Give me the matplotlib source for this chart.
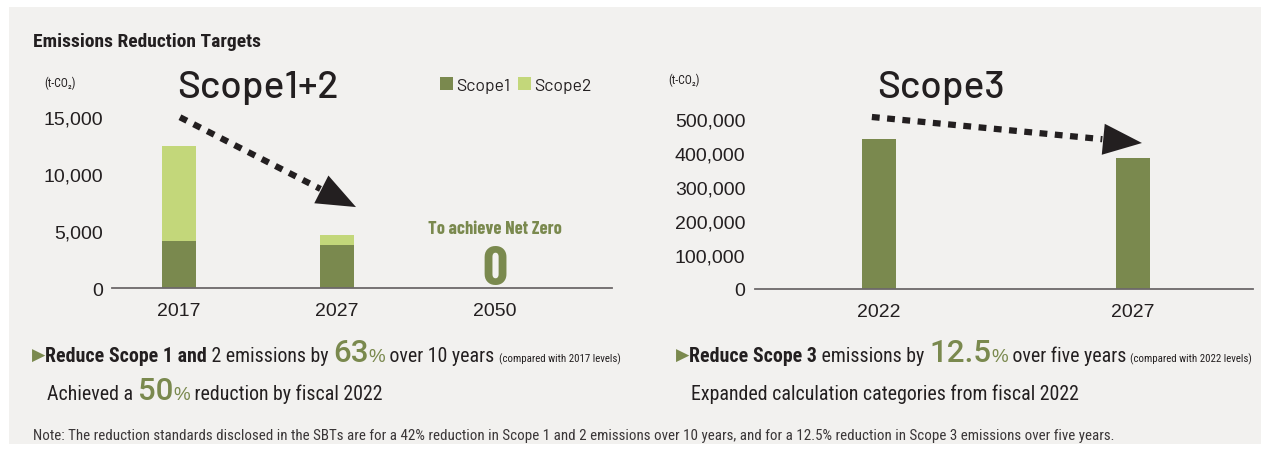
import matplotlib
matplotlib.use("Agg")
import matplotlib.pyplot as plt
from matplotlib.patches import Rectangle
from matplotlib.ticker import FuncFormatter
from matplotlib.transforms import IdentityTransform

# emissions data (t-CO2)
years_12 = ["2017", "2027", "2050"]
scope1 = [4150, 3730, 0]
scope2 = [8300, 880, 0]
years_3 = ["2022", "2027"]
scope3 = [441000, 386000]

DARK = "#231f20"
GREEN = "#7a894e"
LIGHT = "#c3d77a"
PANEL = "#f2f1ef"
AXIS = "#6d6869"

BODY = ["Roboto Condensed", "Archivo Narrow", "Liberation Sans", "DejaVu Sans"]
HEAD = ["Barlow", "DejaVu Sans"]
COND = ["Barlow Condensed", "DejaVu Sans"]
NUM = ["Liberation Sans", "DejaVu Sans"]
BIGNUM = ["Roboto", "Liberation Sans", "DejaVu Sans"]

W, H = 1261, 452
fig = plt.figure(figsize=(W / 100, H / 100), dpi=100, facecolor="white")
fig.add_artist(Rectangle((9 / W, 1 - 445 / H), 1 - 9 / W, 437 / H,
                         transform=fig.transFigure, facecolor=PANEL,
                         edgecolor="none", zorder=-5))


def px_axes(x0, x1, y0, y1):
    # axes box given in pixels from the top-left corner
    return fig.add_axes([x0 / W, 1 - y1 / H, (x1 - x0) / W, (y1 - y0) / H])


def style_axes(ax, fmt_pad):
    ax.set_facecolor("none")
    for s in ["left", "right", "top"]:
        ax.spines[s].set_visible(False)
    ax.spines["bottom"].set_color(AXIS)
    ax.spines["bottom"].set_linewidth(1.3)
    ax.tick_params(length=0, labelsize=14, colors=DARK)
    ax.tick_params(axis="x", pad=10)
    ax.tick_params(axis="y", pad=fmt_pad)
    ax.yaxis.set_major_formatter(FuncFormatter(lambda v, p: f"{v:,.0f}"))
    for lab in ax.get_xticklabels() + ax.get_yticklabels():
        lab.set_family(NUM)


def dotted_arrow(ax, start, base, tip):
    # square-dotted shaft plus a solid triangular head
    ax.plot([start[0], base[0]], [start[1], base[1]], color=DARK, lw=4.5,
            linestyle=(0, (1.25, 1.2)), dash_capstyle="butt", clip_on=False)
    ax.annotate("", xy=tip, xytext=base,
                arrowprops=dict(arrowstyle="-|>,head_length=1.0,head_width=0.4",
                                mutation_scale=28, lw=0, color=DARK,
                                shrinkA=0, shrinkB=0),
                annotation_clip=False)


# --- Scope 1+2 ---
ax1 = px_axes(112, 612, 118, 289)
x12 = range(len(years_12))
b1 = ax1.bar(x12, scope1, width=0.215, color=GREEN, label="Scope1")
b2 = ax1.bar(x12, scope2, width=0.215, bottom=scope1, color=LIGHT, label="Scope2")
ax1.set_xlim(-0.424, 2.74)
ax1.set_ylim(0, 15000)
ax1.set_yticks([0, 5000, 10000, 15000])
ax1.set_xticks(list(x12), years_12)
style_axes(ax1, 6.5)

ax1.text(2, 350, "0", ha="center", va="baseline", family=COND, weight="bold",
         fontsize=40, color=GREEN)
ax1.text(2, 5250, "To achieve Net Zero", ha="center", va="center",
         family=COND, weight="bold", fontsize=13.3, color=GREEN)

dotted_arrow(ax1, (0.006, 14980), (0.895, 8690), (1.12, 7100))

ax1.legend(handles=[b1, b2], ncol=2, frameon=False, loc="center left",
           bbox_to_anchor=(440 / W, 1 - 86 / H), bbox_transform=fig.transFigure,
           borderpad=0, borderaxespad=0, handlelength=0.75, handleheight=0.75,
           handletextpad=0.15, columnspacing=0.45,
           prop=dict(family=HEAD, size=12.7), labelcolor=DARK)

# --- Scope 3 ---
ax2 = px_axes(755, 1253, 120, 290)
x3 = range(len(years_3))
ax2.bar(x3, scope3, width=0.134, color=GREEN)
ax2.set_xlim(-0.488, 1.472)
ax2.set_ylim(0, 500000)
ax2.set_yticks(range(0, 500001, 100000))
ax2.set_xticks(list(x3), years_3)
style_axes(ax2, 7)

dotted_arrow(ax2, (-0.028, 505900), (0.879, 440600), (1.035, 429400))


# --- headings and units ---
def ptext(x, y, s, **kw):
    kw.setdefault("color", DARK)
    return fig.text(x, H - y, s, transform=IdentityTransform(), **kw)


ptext(33, 42, "Emissions Reduction Targets", va="center", family=BODY,
      weight="bold", fontsize=14)
ptext(258, 98, "Scope1+2", ha="center", va="baseline", family=HEAD,
      weight="medium", fontsize=28)
ptext(941, 98, "Scope3", ha="center", va="baseline", family=HEAD,
      weight="medium", fontsize=28)
ptext(44, 83, "(t-CO\u2082)", va="center", family=BODY, fontsize=8.5)
ptext(668, 80, "(t-CO\u2082)", va="center", family=BODY, fontsize=8.5)

# --- summary lines built from runs of text ---
renderer = fig.canvas.get_renderer()


def runs(x, y, parts):
    for s, kw in parts:
        kw = dict(kw)
        kw.setdefault("family", BODY)
        kw.setdefault("fontsize", 14.3)
        dy = kw.pop("dy", 0)
        t = ptext(x, y - dy, s, va="baseline", **kw)
        x = t.get_window_extent(renderer).x1


tri = dict(family=["DejaVu Sans"], fontsize=12.5, color=GREEN, dy=1)
big = dict(family=BIGNUM, weight="medium", fontsize=22.5, color=GREEN)
pct = dict(family=NUM, fontsize=13.5, color=GREEN)
small = dict(fontsize=7.8)
bold = dict(weight="bold")

runs(32, 362, [("\u25b6", tri), ("Reduce Scope 1 and", bold),
               (" 2 emissions by ", {}), ("63", big), ("%", pct),
               (" over 10 years ", {}), ("(compared with 2017 levels)", small)])
runs(47, 400, [("Achieved a ", {}), ("50", big), ("%", pct),
               (" reduction by fiscal 2022", {})])
runs(676, 362, [("\u25b6", tri), ("Reduce Scope 3", bold),
                (" emissions by ", {}), ("12.5", big), ("%", pct),
                (" over five years ", {}), ("(compared with 2022 levels)", small)])
runs(691, 400, [("Expanded calculation categories from fiscal 2022", {})])

ptext(33, 440, "Note: The reduction standards disclosed in the SBTs are for a 42% "
      "reduction in Scope 1 and 2 emissions over 10 years, and for a 12.5% "
      "reduction in Scope 3 emissions over five years.",
      va="baseline", family=BODY, fontsize=10.8, color="#3a3637")

fig.savefig("out.png", dpi=100, facecolor="white")
